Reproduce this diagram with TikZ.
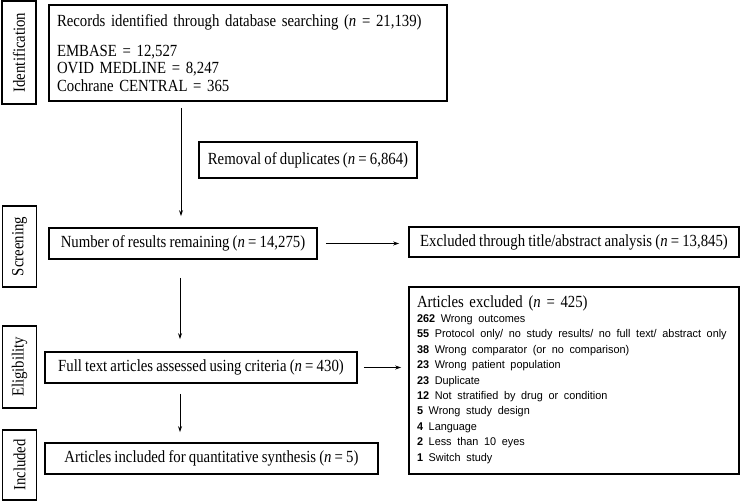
\documentclass[tikz,border=0pt]{standalone}
\usepackage{fontspec}
\setmainfont[FakeStretch=0.87,WordSpace=0.85]{Liberation Serif}
\newfontfamily\listfont[FakeStretch=0.97,WordSpace=0.75]{Liberation Sans}
\usetikzlibrary{arrows.meta}
\begin{document}
\begin{tikzpicture}[x=1pt,y=-1pt,
  box/.style={draw, line width=1.6pt, inner sep=0pt, font=\fontsize{17}{17.5}\selectfont},
  stagebox/.style={draw, line width=1.6pt, rotate=90, inner sep=0pt, minimum height=34pt, font=\fontsize{17}{17.5}\selectfont},
  arr/.style={-{Stealth[length=6pt,width=4pt]}, line width=0.8pt}]
\useasboundingbox (0,0) rectangle (741,502);

% stage labels
\node[stagebox, minimum width=103pt] (idlab) at (19,52.5) {Identification};
\node[stagebox, minimum width=81pt] (scrlab) at (19.5,246.5) {Screening};
\node[stagebox, minimum width=82pt] (eliglab) at (19.5,367) {Eligibility};
\node[stagebox, minimum width=70pt] (inclab) at (19.5,465) {Included};

% main boxes
\node[box, text width=382pt, align=left, minimum height=96pt, inner xsep=8pt] (rec) at (248,53)
  {Records identified through database searching (\textit{n} = 21,139)\\[12.5pt]
   EMBASE = 12,527\\ OVID MEDLINE = 8,247\\ Cochrane CENTRAL = 365};
\node[box, minimum width=218pt, minimum height=36pt] (rem) at (308,160)
  {Removal of duplicates (\textit{n} = 6,864)};
\node[box, minimum width=268pt, minimum height=31pt] (num) at (183,243.5)
  {Number of results remaining (\textit{n} = 14,275)};
\node[box, minimum width=330pt, minimum height=30pt] (excl) at (574,242)
  {Excluded through title/abstract analysis (\textit{n} = 13,845)};
\node[box, text width=314pt, align=left, minimum height=187pt, inner xsep=8pt] (arts) at (574,380.5)
  {\fontsize{11.2}{15.4}\selectfont
   \begin{tabular}{@{}l@{}}
   {\fontsize{17}{17.5}\selectfont Articles excluded (\textit{n} = 425)}\\
   \listfont\textbf{262} Wrong outcomes\\
   \listfont\textbf{55} Protocol only/ no study results/ no full text/ abstract only\\
   \listfont\textbf{38} Wrong comparator (or no comparison)\\
   \listfont\textbf{23} Wrong patient population\\
   \listfont\textbf{23} Duplicate\\
   \listfont\textbf{12} Not stratified by drug or condition\\
   \listfont\textbf{5} Wrong study design\\
   \listfont\textbf{4} Language\\
   \listfont\textbf{2} Less than 10 eyes\\
   \listfont\textbf{1} Switch study
   \end{tabular}};
\node[box, minimum width=312pt, minimum height=31pt] (full) at (201,367.5)
  {Full text articles assessed using criteria (\textit{n} = 430)};
\node[box, minimum width=333pt, minimum height=31pt] (incl) at (211.5,458.5)
  {Articles included for quantitative synthesis (\textit{n} = 5)};

% connectors
\coordinate (ax) at (181,0);
\coordinate (bx) at (180,0);
\draw[arr, shorten <=6pt, shorten >=11pt] (rec.south -| ax) -- (num.north -| ax);
\draw[arr, shorten <=8pt, shorten >=9pt] (num.east) -- (num.east -| excl.west);
\draw[arr, shorten <=18pt, shorten >=12pt] (num.south -| bx) -- (full.north -| bx);
\draw[arr, shorten <=6pt, shorten >=7pt] (full.east) -- (full.east -| arts.west);
\draw[arr, shorten <=10pt, shorten >=10pt] (full.south -| bx) -- (incl.north -| bx);
\end{tikzpicture}
\end{document}
